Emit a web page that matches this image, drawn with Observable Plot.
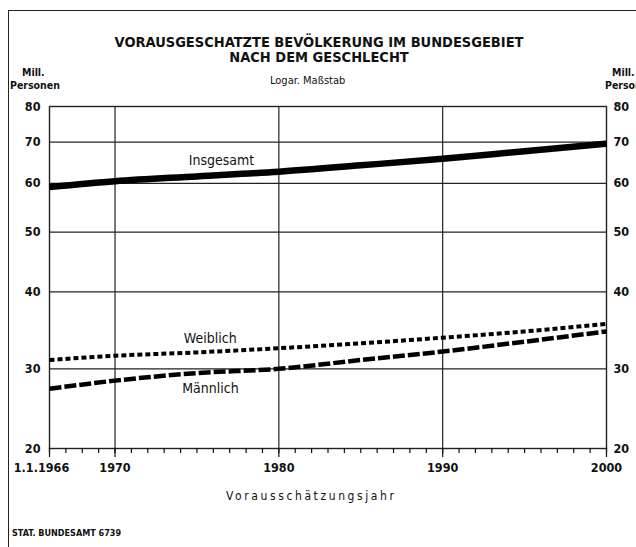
<!DOCTYPE html>
<html><head><meta charset="utf-8">
<script src="https://cdn.jsdelivr.net/npm/d3@7"></script>
<script src="https://cdn.jsdelivr.net/npm/@observablehq/plot@0.6"></script>
<style>
body{margin:0;background:#fff;}
#wrap{position:relative;width:636px;height:547px;overflow:hidden;font-family:"DejaVu Sans Condensed",sans-serif;color:#111;background:#fff;}
#border{position:absolute;left:8px;top:10px;width:700px;height:600px;border-left:1.5px solid #222;border-top:1.5px solid #222;}
.t{position:absolute;white-space:nowrap;line-height:1;}
#title{left:0;width:638px;top:35px;text-align:center;font-weight:bold;font-size:14.5px;line-height:15px;}
#chart{position:absolute;left:0;top:0;}
</style></head>
<body>
<div id="wrap">
<div id="border"></div>
<div id="chart"></div>
<div class="t" id="title">VORAUSGESCHATZTE BEVÖLKERUNG IM BUNDESGEBIET<br>NACH DEM GESCHLECHT</div>
<div class="t" style="left:22px;top:67px;font-size:10.5px;font-weight:bold;">Mill.</div>
<div class="t" style="left:10px;top:80px;font-size:10.5px;font-weight:bold;">Personen</div>
<div class="t" style="left:612px;top:67px;font-size:10.5px;font-weight:bold;">Mill.</div>
<div class="t" style="left:605px;top:80px;font-size:10.5px;font-weight:bold;">Personen</div>
<div class="t" style="left:270px;top:75px;font-size:11px;">Logar. Maßstab</div>
<div class="t" style="left:226px;top:490px;font-size:12px;letter-spacing:2.6px;">Vorausschätzungsjahr</div>
<div class="t" style="left:12px;top:529px;font-size:9px;font-weight:bold;">STAT. BUNDESAMT 6739</div>
</div>
<script>
const years = [1966, 1970, 1975, 1980, 1985, 1990, 1995, 2000];
const insgesamt = [59.2, 60.5, 61.6, 62.7, 64.2, 65.8, 67.7, 69.6];
const weiblich = [31.0, 31.5, 31.9, 32.4, 33.0, 33.7, 34.5, 35.5];
const maennlich = [27.1, 28.25, 29.35, 30.0, 31.0, 32.0, 33.2, 34.5];
const seriesNames = ["Insgesamt", "Weiblich", "Männlich"];
const labelYear = [1974.5, 1974.2, 1974.1];
const labelValue = [65.4, 33.6, 27.15];
const yTicks = [20, 30, 40, 50, 60, 70, 80];
const yBreaks = [20, 30, 80];
const gridValues = [30, 40, 50, 60, 70];
const gridYears = [1970, 1980, 1990];
const minorYears = d3.range(1966, 2001);
const xLabelYears = [1966, 1970, 1980, 1990, 2000];
const xLabels = ["1.1.1966", "1970", "1980", "1990", "2000"];

const rows = (vals, name) => years.map((y, i) => ({year: y, value: vals[i], series: name}));
const dIns = rows(insgesamt, seriesNames[0]);
const dWei = rows(weiblich, seriesNames[1]);
const dMae = rows(maennlich, seriesNames[2]);
const labels = seriesNames.map((s, i) => ({year: labelYear[i], value: labelValue[i], text: s}));

const W = 636, H = 547, mT = 106, mB = 99;
const font = "'DejaVu Sans Condensed',sans-serif";
const chart = Plot.plot({
  width: W, height: H,
  marginLeft: 49, marginRight: 30, marginTop: mT, marginBottom: mB,
  style: {fontFamily: font, fontSize: "12px", color: "#111", background: "transparent", overflow: "visible"},
  x: {domain: [1966, 2000]},
  y: {type: "log", domain: yBreaks, range: [H - mB, 368.3, mT]},
  marks: [
    Plot.ruleX(gridYears, {stroke: "#222", strokeWidth: 1.2}),
    Plot.ruleY(gridValues, {stroke: "#222", strokeWidth: 1.2}),
    Plot.frame({stroke: "#222", strokeWidth: 1.4}),
    Plot.axisY(yTicks, {anchor: "left", tickSize: 0, tickPadding: 9, label: null, tickFormat: d => String(d), fontWeight: "bold", fontSize: 12.5}),
    Plot.axisY(yTicks, {anchor: "right", tickSize: 0, tickPadding: 7, label: null, tickFormat: d => String(d), fontWeight: "bold", fontSize: 12.5}),
    Plot.axisX(minorYears, {tickSize: 5, tickFormat: () => "", label: null, strokeWidth: 1.2}),
    Plot.axisX(xLabelYears, {tickSize: 9, tickFormat: () => "", label: null, strokeWidth: 1.2}),
    Plot.text(xLabelYears.slice(0, 1), {x: d => d, text: d => xLabels[0], frameAnchor: "bottom", dy: 23, dx: -8, fontWeight: "bold", fontSize: 12.5}),
    Plot.text(xLabelYears.slice(1), {x: d => d, text: d => xLabels[xLabelYears.indexOf(d)], frameAnchor: "bottom", dy: 23, fontWeight: "bold", fontSize: 12.5}),
    Plot.line(dIns, {x: "year", y: "value", stroke: "#000", strokeWidth: 6.5, strokeLinecap: "butt", curve: "monotone-x"}),
    Plot.line(dWei, {x: "year", y: "value", stroke: "#000", strokeWidth: 4, strokeLinecap: "butt", strokeDasharray: "5,3", curve: "monotone-x"}),
    Plot.line(dMae, {x: "year", y: "value", stroke: "#000", strokeWidth: 4.5, strokeLinecap: "butt", strokeDasharray: "12,3", curve: "monotone-x"}),
    Plot.text(labels, {x: "year", y: "value", text: "text", textAnchor: "start", fontSize: 14, fill: "#111"})
  ]
});
document.getElementById("chart").appendChild(chart);
</script>
</body></html>
